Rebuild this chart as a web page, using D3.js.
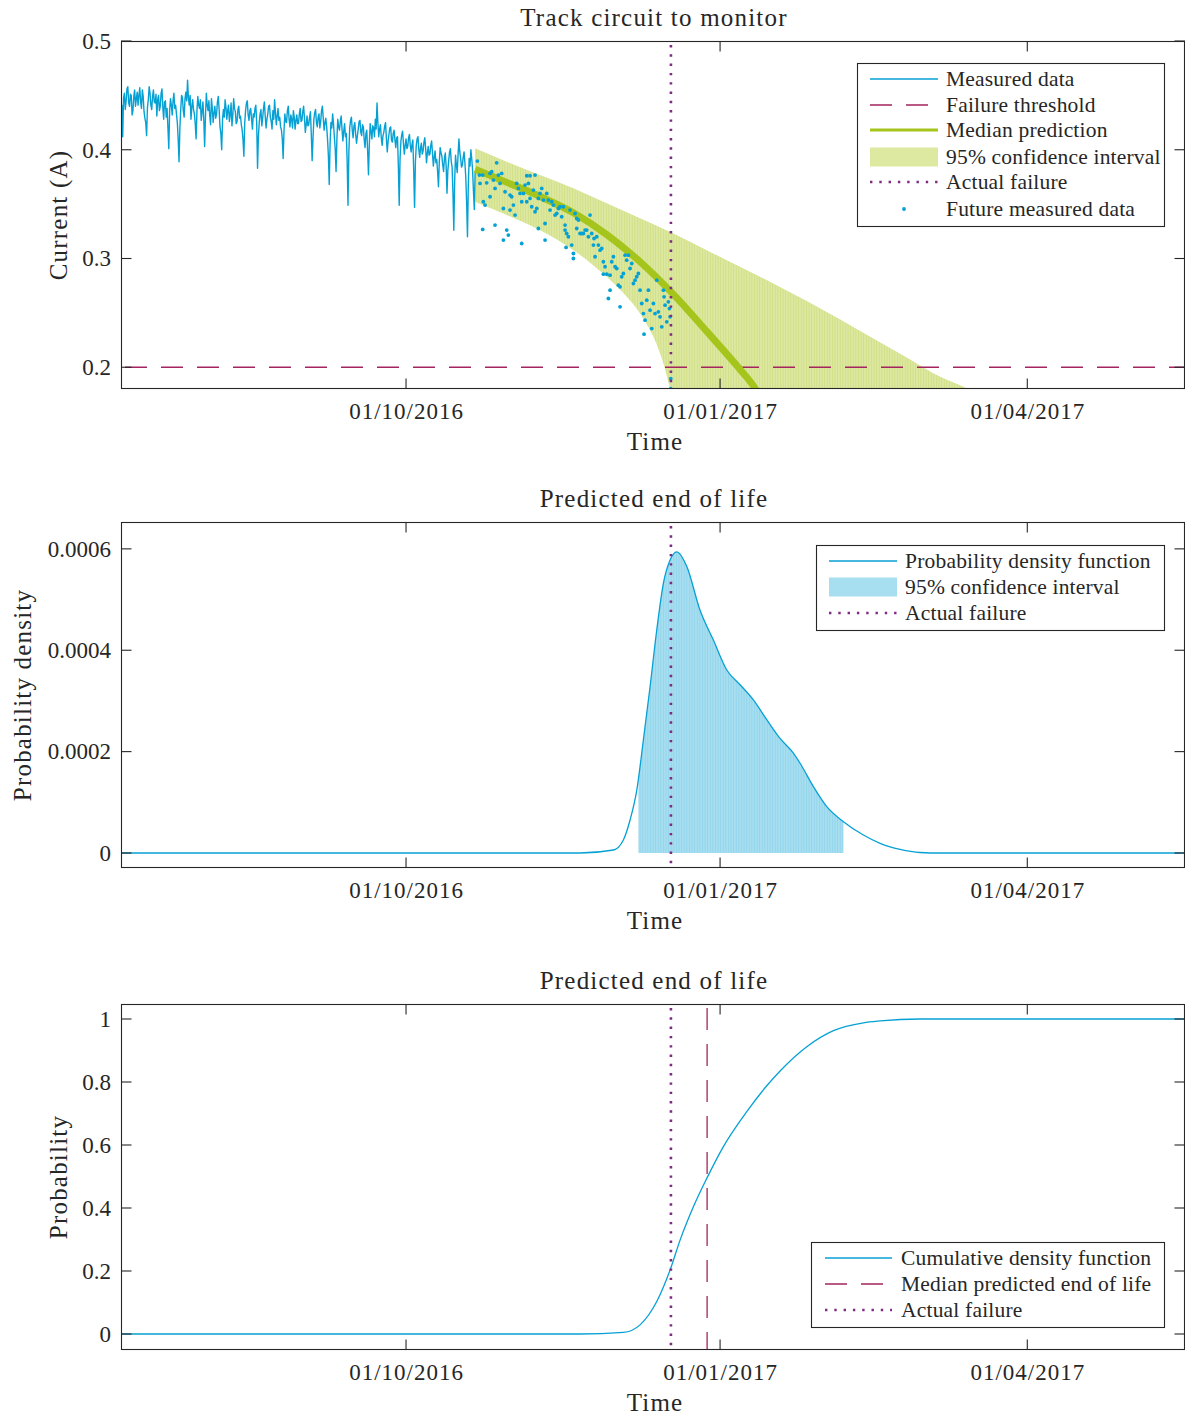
<!DOCTYPE html>
<html><head><meta charset="utf-8">
<script src="https://cdn.jsdelivr.net/npm/d3@7"></script>
<style>
body{margin:0;background:#fff}
svg{display:block}
text{font-family:"Liberation Serif","Times New Roman",serif;fill:#262626}
</style>
</head><body>
<svg id="chart" width="1185" height="1415"></svg>
<script>
// ---------- DATA (days are counted from 01/10/2016) ----------
const refDateMs = Date.UTC(2016, 9, 1);
const xDomainDays = [-83.5, 228.2];
const xTickDates = ["2016-10-01", "2017-01-01", "2017-04-01"];

const measuredStartDay = -83.5;
const measuredStepDays = 0.25;
const measuredValues = [
0.430,0.441,0.412,0.448,0.452,0.437,0.445,0.456,0.458,0.443,0.440,0.451,0.450,0.432,0.436,0.449,0.455,0.440,0.447,0.453,
0.441,0.450,0.457,0.444,0.438,0.455,0.449,0.435,0.429,0.425,0.413,0.439,0.446,0.458,0.452,0.441,0.437,0.449,0.455,0.444,
0.443,0.451,0.431,0.446,0.450,0.436,0.440,0.452,0.456,0.439,0.428,0.444,0.445,0.430,0.438,0.420,0.401,0.436,0.447,0.441,
0.432,0.445,0.452,0.438,0.441,0.433,0.425,0.410,0.389,0.420,0.437,0.450,0.448,0.436,0.430,0.447,0.453,0.445,0.464,0.448,
0.441,0.450,0.428,0.439,0.446,0.437,0.433,0.424,0.410,0.436,0.449,0.441,0.438,0.446,0.427,0.435,0.444,0.428,0.403,0.431,
0.452,0.441,0.436,0.445,0.431,0.423,0.447,0.438,0.425,0.434,0.440,0.429,0.433,0.444,0.449,0.437,0.421,0.415,0.400,0.428,
0.437,0.430,0.446,0.439,0.428,0.436,0.441,0.426,0.432,0.443,0.422,0.431,0.447,0.438,0.435,0.424,0.426,0.437,0.440,0.429,
0.431,0.423,0.418,0.409,0.394,0.425,0.436,0.443,0.445,0.432,0.427,0.436,0.438,0.428,0.419,0.433,0.430,0.438,0.441,0.425,
0.383,0.412,0.425,0.433,0.437,0.422,0.429,0.438,0.444,0.431,0.420,0.428,0.433,0.440,0.441,0.430,0.426,0.419,0.436,0.428,
0.446,0.434,0.423,0.431,0.438,0.427,0.430,0.421,0.418,0.410,0.392,0.417,0.433,0.426,0.425,0.436,0.440,0.428,0.421,0.432,
0.428,0.420,0.436,0.430,0.419,0.427,0.432,0.424,0.424,0.433,0.438,0.426,0.427,0.435,0.440,0.429,0.416,0.423,0.431,0.422,
0.423,0.430,0.435,0.414,0.390,0.411,0.428,0.434,0.437,0.425,0.421,0.430,0.433,0.420,0.426,0.436,0.440,0.429,0.418,0.425,
0.429,0.421,0.410,0.395,0.368,0.405,0.425,0.420,0.433,0.424,0.412,0.401,0.380,0.410,0.428,0.421,0.418,0.426,0.431,0.419,
0.408,0.417,0.424,0.412,0.415,0.390,0.349,0.398,0.420,0.427,0.430,0.418,0.411,0.422,0.425,0.414,0.406,0.413,0.419,0.426,
0.427,0.416,0.413,0.423,0.421,0.409,0.402,0.415,0.418,0.399,0.377,0.405,0.424,0.417,0.410,0.422,0.420,0.412,0.428,0.419,
0.443,0.425,0.412,0.419,0.423,0.411,0.404,0.413,0.416,0.422,0.425,0.410,0.398,0.408,0.414,0.420,0.421,0.409,0.407,0.415,
0.418,0.409,0.402,0.411,0.412,0.385,0.349,0.392,0.408,0.414,0.417,0.405,0.396,0.404,0.410,0.401,0.403,0.411,0.414,0.404,
0.398,0.405,0.409,0.381,0.347,0.389,0.404,0.410,0.412,0.400,0.393,0.402,0.406,0.396,0.399,0.407,0.411,0.401,0.388,0.397,
0.403,0.395,0.396,0.404,0.408,0.397,0.385,0.393,0.399,0.388,0.391,0.380,0.366,0.389,0.402,0.397,0.394,0.386,0.380,0.392,
0.397,0.385,0.360,0.381,0.390,0.398,0.401,0.389,0.384,0.360,0.326,0.372,0.395,0.386,0.379,0.396,0.410,0.398,0.392,0.384,
0.386,0.393,0.398,0.388,0.375,0.352,0.320,0.368,0.392,0.385,0.400,0.392,0.381,0.362,0.345,0.380
];

const futureDays = [
20.90,21.49,22.46,21.68,22.66,23.15,22.46,23.63,24.61,25.10,25.59,26.08,24.61,26.08,26.56,27.05,27.54,28.03,28.52,28.52,
29.01,29.50,29.98,30.47,30.47,30.96,31.45,31.94,32.42,32.91,33.40,33.89,33.89,34.38,34.87,35.36,35.36,35.84,36.33,36.33,
36.82,37.31,37.80,37.80,38.29,38.77,38.77,39.26,39.75,40.24,40.73,40.73,41.22,41.70,42.19,42.68,43.17,43.66,44.15,44.63,
45.12,45.61,46.10,46.59,46.59,46.88,47.07,47.56,48.05,48.54,49.03,49.03,49.52,50.01,50.01,50.49,50.98,51.47,51.96,52.45,
52.94,53.42,53.91,54.40,54.89,55.08,55.38,55.87,56.35,56.84,57.33,57.82,57.82,58.31,58.80,59.28,59.77,59.77,60.26,60.75,
61.24,61.73,62.21,62.70,62.70,63.19,63.68,64.17,64.65,65.14,65.63,66.12,66.61,67.10,67.58,68.07,68.56,69.05,69.54,69.73,
70.03,70.52,71.00,71.49,71.98,72.47,72.96,73.45,73.93,74.42,74.91,75.40,75.59,75.89,76.38,76.86,77.16,77.35,77.55,77.55
];
const futureValues = [
0.3896,0.3767,0.3767,0.3690,0.3522,0.3491,0.3267,0.3696,0.3782,0.3798,0.3721,0.3644,0.3568,0.3307,0.3880,0.3767,0.3690,0.3782,0.3460,0.3169,
0.3614,0.3261,0.3215,0.3445,0.3583,0.3568,0.3491,0.3399,0.3690,0.3644,0.3598,0.3522,0.3138,0.3598,0.3675,0.3761,0.3522,0.3690,0.3761,0.3552,
0.3476,0.3629,0.3767,0.3430,0.3460,0.3276,0.3552,0.3598,0.3644,0.3537,0.3322,0.3169,0.3598,0.3537,0.3445,0.3522,0.3491,0.3399,0.3414,0.3460,
0.3476,0.3384,0.3476,0.3307,0.3261,0.3102,0.3230,0.3200,0.3445,0.3123,0.3046,0.3000,0.3414,0.3368,0.3276,0.3353,0.3230,0.3230,0.3230,0.3261,
0.3261,0.3200,0.3399,0.3230,0.3123,0.3184,0.3016,0.3200,0.3123,0.3077,0.3092,0.2970,0.2856,0.2924,0.2856,0.2632,0.2709,0.2847,0.2970,0.3016,
0.2924,0.2908,0.2755,0.2556,0.2740,0.2832,0.2862,0.3031,0.2985,0.3031,0.2908,0.2954,0.2770,0.2801,0.2832,0.2862,0.2709,0.2586,0.2494,0.2304,
0.2433,0.2617,0.2709,0.2525,0.2356,0.2586,0.2494,0.2801,0.2510,0.2464,0.2372,0.2709,0.2648,0.2571,0.2418,0.2602,0.2540,0.2464,0.1896,0.1804
];

const medianDays   = [20.22, 29.50, 39.26, 49.03, 58.80, 68.56, 78.33, 88.09, 97.86, 101.28, 104.0];
const medianValues = [0.382, 0.370, 0.357, 0.342, 0.322, 0.297, 0.267, 0.233, 0.198, 0.185, 0.172];

const ciUpperDays   = [20.22, 29.50, 39.26, 49.03, 58.80, 68.56, 78.33, 88.09, 97.86, 107.6, 117.4, 127.2, 136.9, 146.7, 156.5, 164.3, 167.0];
const ciUpperValues = [0.4013, 0.389, 0.3767, 0.3645, 0.3507, 0.3369, 0.323, 0.3077, 0.2924, 0.2771, 0.2610, 0.2440, 0.2265, 0.2090, 0.1912, 0.1805, 0.176];
const ciLowerDays   = [20.22, 29.50, 39.26, 49.03, 58.80, 64.65, 68.56, 72.47, 75.40, 77.35, 78.5];
const ciLowerValues = [0.3522, 0.340, 0.326, 0.3077, 0.2832, 0.2648, 0.2495, 0.228, 0.2035, 0.1805, 0.17];

const failureThreshold = 0.2;
const actualFailureDay = 77.6;
const medianEndOfLifeDay = 88.2;

const pdfDays = [-84, 50.98, 60.74, 63.67, 65.63, 67.6, 69.53, 71.49, 73.45, 75.39, 77.35, 79.31, 82.25, 86.08, 90.04, 93.97, 97.86, 101.76, 105.68, 109.58, 113.48, 115.44, 119.34, 123.26, 128.13, 133.99, 138.88, 144.74, 150.6, 156.5, 229];
const pdfValues = [0, 0, 0.0000059, 0.0000257, 0.0000651, 0.000124, 0.000223, 0.000328, 0.00044, 0.000532, 0.000578, 0.000594, 0.000565, 0.00048, 0.00042, 0.000361, 0.000332, 0.000302, 0.000263, 0.000226, 0.000197, 0.000177, 0.000131, 0.0000914, 0.0000618, 0.0000355, 0.000019, 0.000007, 0.000001, 0, 0];
const pdfCiDays = [68.07, 128.13];

const cdfDays = [-84, 50.98, 63.67, 68.56, 73.45, 77.35, 80.28, 84.18, 88.1, 92.97, 99.82, 105.68, 109.58, 117.4, 125.2, 134.0, 138.9, 150.6, 229];
const cdfValues = [0, 0, 0.005, 0.029, 0.103, 0.203, 0.298, 0.404, 0.494, 0.595, 0.706, 0.788, 0.835, 0.912, 0.963, 0.988, 0.994, 1.0, 1.0];

const p1Ticks = [0.2, 0.3, 0.4, 0.5];
const p2Ticks = [0, 0.0002, 0.0004, 0.0006];
const p2TickLabels = ["0", "0.0002", "0.0004", "0.0006"];
const p3Ticks = [0, 0.2, 0.4, 0.6, 0.8, 1];
const p3TickLabels = ["0", "0.2", "0.4", "0.6", "0.8", "1"];

// ---------- STYLE ----------
const C = {
  blue: "#06a1d4", green: "#a5c51c", greenFill: "#dde8a1", greenHatch: "#d1df86",
  blueFill: "#a7def0", blueHatch: "#92d5ec",
  threshold: "#a3245e", failure: "#7e2b82", axis: "#262626"
};
const FS = 25, LS = 1.2;      // titles and axis names
const TFS = 23;               // tick labels
const LFS = 21.5, LLS = 0.2;  // legend
const toDate = d => new Date(refDateMs + d * 864e5);
const svg = d3.select("#chart");
const defs = svg.append("defs");
function hatch(id, base, line) {
  const p = defs.append("pattern").attr("id", id).attr("patternUnits", "userSpaceOnUse")
    .attr("width", 2.6).attr("height", 10);
  p.append("rect").attr("width", 2.6).attr("height", 10).attr("fill", base);
  p.append("rect").attr("width", 0.9).attr("height", 10).attr("fill", line);
}
hatch("hg", C.greenFill, C.greenHatch);
hatch("hb", C.blueFill, C.blueHatch);

const L = 121, R = 1185;
const x = d3.scaleUtc().domain(xDomainDays.map(toDate)).range([L, R]);
const xTicks = xTickDates.map(s => new Date(s + "T00:00:00Z"));
const fmt = d3.utcFormat("%d/%m/%Y");

function panel(cfg) {
  const y = d3.scaleLinear().domain(cfg.domain).range([cfg.bottom, cfg.top]);
  const g = svg.append("g");
  const cid = "clip" + cfg.id;
  defs.append("clipPath").attr("id", cid).append("rect")
    .attr("x", L).attr("y", cfg.top).attr("width", R - L).attr("height", cfg.bottom - cfg.top);
  const plot = g.append("g").attr("clip-path", `url(#${cid})`);
  g.append("text").attr("x", 654).attr("y", cfg.top - 15).attr("text-anchor", "middle")
    .attr("font-size", FS).attr("letter-spacing", LS).text(cfg.title);
  g.append("g").attr("transform", `translate(0,${cfg.bottom + 8})`)
    .call(d3.axisBottom(x).tickValues(xTicks).tickFormat(fmt).tickSize(0).tickPadding(0))
    .call(a => a.select(".domain").remove())
    .call(a => a.selectAll("text").attr("font-size", TFS).attr("font-family", null).attr("fill", C.axis)
      .attr("letter-spacing", 1).attr("dy", "0.78em").attr("y", 4));
  g.append("text").attr("x", 655).attr("y", cfg.bottom + 61).attr("text-anchor", "middle")
    .attr("font-size", FS).attr("letter-spacing", LS).text("Time");
  g.append("g").attr("transform", `translate(${L - 10},0)`)
    .call(d3.axisLeft(y).tickValues(cfg.ticks).tickFormat((d, i) => cfg.labels[i]).tickSize(0).tickPadding(0))
    .call(a => a.select(".domain").remove())
    .call(a => a.selectAll("text").attr("font-size", TFS).attr("font-family", null).attr("fill", C.axis));
  g.append("text").attr("transform", `translate(${cfg.ylabX},${(cfg.top + cfg.bottom) / 2}) rotate(-90)`)
    .attr("text-anchor", "middle").attr("dy", "0.35em").attr("font-size", FS).attr("letter-spacing", LS).text(cfg.ylabel);
  return {y, g, plot, cfg};
}

function frame(p) {
  const {g, y, cfg} = p;
  const a = g.append("g").attr("stroke", C.axis).attr("stroke-width", 1.1).attr("fill", "none");
  a.append("rect").attr("x", L + 0.5).attr("y", cfg.top + 0.5).attr("width", R - L - 1).attr("height", cfg.bottom - cfg.top - 1);
  const tl = 10.5;
  xTicks.forEach(t => {
    a.append("line").attr("x1", x(t)).attr("x2", x(t)).attr("y1", cfg.bottom).attr("y2", cfg.bottom - tl);
    a.append("line").attr("x1", x(t)).attr("x2", x(t)).attr("y1", cfg.top).attr("y2", cfg.top + tl);
  });
  cfg.ticks.forEach(v => {
    a.append("line").attr("x1", L).attr("x2", L + tl).attr("y1", y(v)).attr("y2", y(v));
    a.append("line").attr("x1", R).attr("x2", R - tl).attr("y1", y(v)).attr("y2", y(v));
  });
}

function legend(g, box, rows, sampleX, textX, rowY) {
  g.append("rect").attr("x", box[0] + 0.5).attr("y", box[1] + 0.5).attr("width", box[2]).attr("height", box[3])
    .attr("fill", "#fff").attr("stroke", C.axis).attr("stroke-width", 1.1);
  rows.forEach((r, i) => {
    const yy = rowY[i];
    if (r.type === "line") {
      g.append("line").attr("x1", sampleX[0]).attr("x2", sampleX[1]).attr("y1", yy).attr("y2", yy)
        .attr("stroke", r.color).attr("stroke-width", r.width || 1.3).attr("stroke-dasharray", r.dash || null);
    } else if (r.type === "rect") {
      g.append("rect").attr("x", sampleX[0]).attr("y", yy - 9.5).attr("width", sampleX[1] - sampleX[0]).attr("height", 19)
        .attr("fill", r.color);
    } else if (r.type === "dot") {
      g.append("circle").attr("cx", (sampleX[0] + sampleX[1]) / 2).attr("cy", yy).attr("r", 1.9).attr("fill", r.color);
    }
    g.append("text").attr("x", textX).attr("y", yy).attr("dy", "0.33em").attr("font-size", LFS)
      .attr("letter-spacing", LLS).text(r.label);
  });
}

const dotDash = "2.4,6.9";
const thrDash = "22,14";

// ---------- PANEL 1 ----------
const p1 = panel({id: 1, top: 41, bottom: 389, domain: [0.18, 0.5], ticks: p1Ticks, labels: p1Ticks.map(String),
  title: "Track circuit to monitor", ylabel: "Current (A)", ylabX: 58});
{
  const {plot, y} = p1;
  const up = ciUpperDays.map((d, i) => [x(toDate(d)), y(ciUpperValues[i])]);
  const lo = ciLowerDays.map((d, i) => [x(toDate(d)), y(ciLowerValues[i])]).reverse();
  const dUp = d3.line().curve(d3.curveMonotoneX)(up);
  const dLo = d3.line().curve(d3.curveCatmullRom)(lo).replace(/^M/, "L");
  plot.append("path").attr("d", dUp + dLo + "Z").attr("fill", "url(#hg)");
  plot.append("line").attr("x1", L).attr("x2", R).attr("y1", y(failureThreshold)).attr("y2", y(failureThreshold))
    .attr("stroke", C.threshold).attr("stroke-width", 1.3).attr("stroke-dasharray", thrDash).attr("stroke-dashoffset", -4);
  const meas = measuredValues.map((v, i) => [toDate(measuredStartDay + i * measuredStepDays), v]);
  plot.append("path").datum(meas).attr("fill", "none").attr("stroke", C.blue).attr("stroke-width", 1.4)
    .attr("stroke-linejoin", "round")
    .attr("d", d3.line().x(d => x(d[0])).y(d => y(d[1])));
  const med = medianDays.map((d, i) => [toDate(d), medianValues[i]]);
  plot.append("path").datum(med).attr("fill", "none").attr("stroke", C.green).attr("stroke-width", 7)
    .attr("d", d3.line().curve(d3.curveMonotoneX).x(d => x(d[0])).y(d => y(d[1])));
  plot.selectAll("circle.f").data(futureDays.map((d, i) => [toDate(d), futureValues[i]])).join("circle")
    .attr("cx", d => x(d[0])).attr("cy", d => y(d[1])).attr("r", 1.9).attr("fill", C.blue);
  plot.append("line").attr("x1", x(toDate(actualFailureDay))).attr("x2", x(toDate(actualFailureDay)))
    .attr("y1", 45).attr("y2", 389).attr("stroke", C.failure).attr("stroke-width", 2.6).attr("stroke-dasharray", dotDash);
  frame(p1);
  legend(p1.g, [857, 63, 307, 163], [
    {type: "line", color: C.blue, label: "Measured data"},
    {type: "line", color: C.threshold, dash: "22,14", label: "Failure threshold"},
    {type: "line", color: C.green, width: 3, label: "Median prediction"},
    {type: "rect", color: C.greenFill, label: "95% confidence interval"},
    {type: "line", color: C.failure, width: 2.6, dash: dotDash, label: "Actual failure"},
    {type: "dot", color: C.blue, label: "Future measured data"}
  ], [870, 938], 946, [79, 105, 130, 157, 182, 209]);
}

// ---------- PANEL 2 ----------
const p2 = panel({id: 2, top: 522, bottom: 868, domain: [-0.0000296, 0.000653], ticks: p2Ticks, labels: p2TickLabels,
  title: "Predicted end of life", ylabel: "Probability density", ylabX: 22});
{
  const {plot, y} = p2;
  const pdf = pdfDays.map((d, i) => [toDate(d), pdfValues[i]]);
  const cid = "ciclip2";
  defs.append("clipPath").attr("id", cid).append("rect")
    .attr("x", x(toDate(pdfCiDays[0]))).attr("y", 0)
    .attr("width", x(toDate(pdfCiDays[1])) - x(toDate(pdfCiDays[0]))).attr("height", 1415);
  plot.append("path").datum(pdf).attr("clip-path", `url(#${cid})`).attr("fill", "url(#hb)")
    .attr("d", d3.area().curve(d3.curveMonotoneX).x(d => x(d[0])).y0(y(0)).y1(d => y(d[1])));
  plot.append("path").datum(pdf).attr("fill", "none").attr("stroke", C.blue).attr("stroke-width", 1.3)
    .attr("d", d3.line().curve(d3.curveMonotoneX).x(d => x(d[0])).y(d => y(d[1])));
  plot.append("line").attr("x1", x(toDate(actualFailureDay))).attr("x2", x(toDate(actualFailureDay)))
    .attr("y1", 526).attr("y2", 868).attr("stroke", C.failure).attr("stroke-width", 2.6).attr("stroke-dasharray", dotDash);
  frame(p2);
  legend(p2.g, [816, 545, 348, 85], [
    {type: "line", color: C.blue, label: "Probability density function"},
    {type: "rect", color: C.blueFill, label: "95% confidence interval"},
    {type: "line", color: C.failure, width: 2.6, dash: dotDash, label: "Actual failure"}
  ], [829, 897], 905, [561, 587, 613]);
}

// ---------- PANEL 3 ----------
const p3 = panel({id: 3, top: 1004, bottom: 1350, domain: [-0.0508, 1.0476], ticks: p3Ticks, labels: p3TickLabels,
  title: "Predicted end of life", ylabel: "Probability", ylabX: 58});
{
  const {plot, y} = p3;
  const cdf = cdfDays.map((d, i) => [toDate(d), cdfValues[i]]);
  plot.append("line").attr("x1", x(toDate(medianEndOfLifeDay))).attr("x2", x(toDate(medianEndOfLifeDay)))
    .attr("y1", 1004).attr("y2", 1350).attr("stroke", C.threshold).attr("stroke-width", 1.3).attr("stroke-dasharray", thrDash)
    .attr("stroke-dashoffset", -4);
  plot.append("path").datum(cdf).attr("fill", "none").attr("stroke", C.blue).attr("stroke-width", 1.3)
    .attr("d", d3.line().curve(d3.curveMonotoneX).x(d => x(d[0])).y(d => y(d[1])));
  plot.append("line").attr("x1", x(toDate(actualFailureDay))).attr("x2", x(toDate(actualFailureDay)))
    .attr("y1", 1008).attr("y2", 1350).attr("stroke", C.failure).attr("stroke-width", 2.6).attr("stroke-dasharray", dotDash);
  frame(p3);
  legend(p3.g, [811, 1242, 353, 85], [
    {type: "line", color: C.blue, label: "Cumulative density function"},
    {type: "line", color: C.threshold, dash: "22,14", label: "Median predicted end of life"},
    {type: "line", color: C.failure, width: 2.6, dash: dotDash, label: "Actual failure"}
  ], [825, 892], 901, [1258, 1284, 1310]);
}
</script>
</body></html>
